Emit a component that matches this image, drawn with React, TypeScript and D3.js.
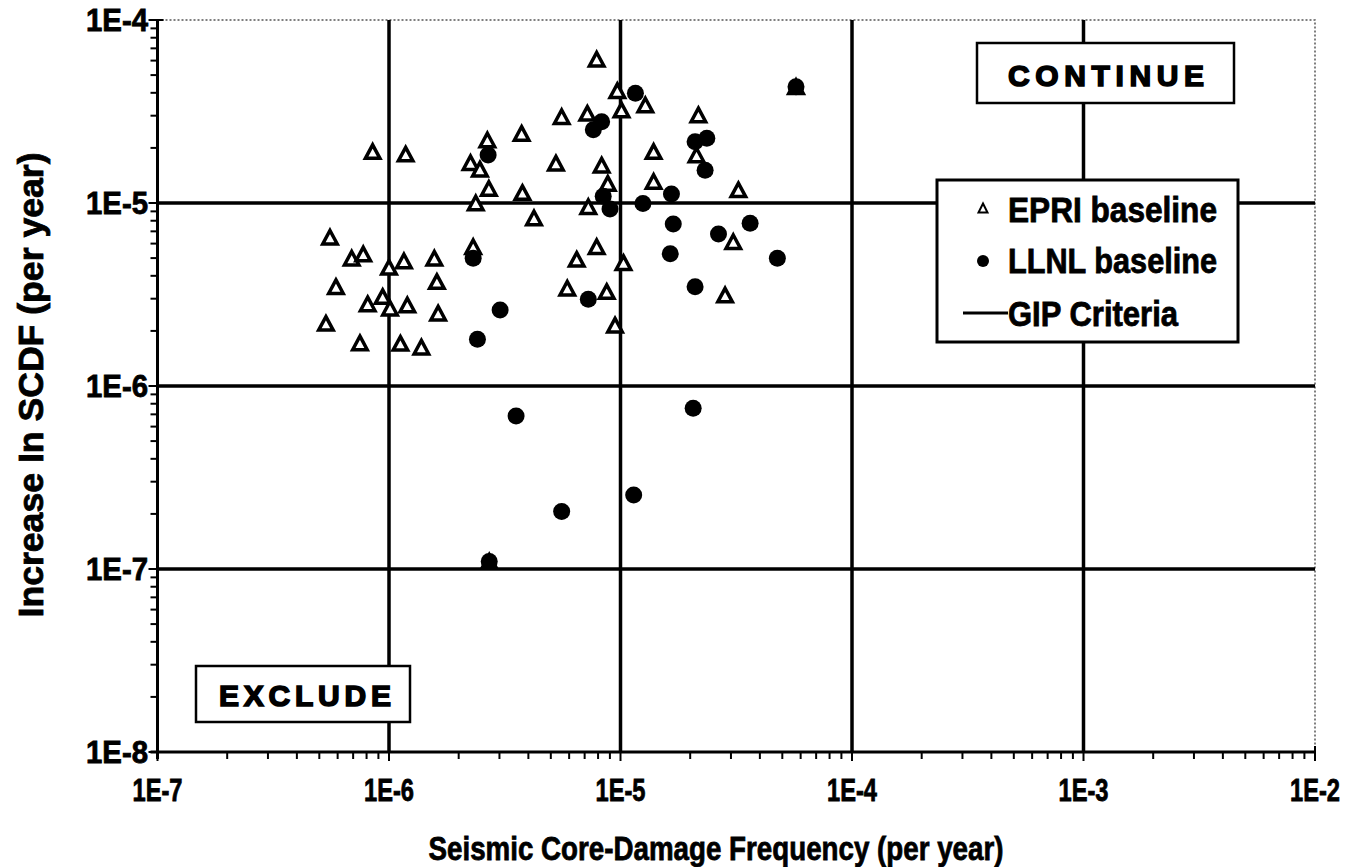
import React from "react";
import * as d3 from "d3";

const xTickValues = [1e-7, 1e-6, 1e-5, 1e-4, 1e-3, 1e-2];
const xTickLabels = ["1E-7", "1E-6", "1E-5", "1E-4", "1E-3", "1E-2"];
const yTickValues = [1e-4, 1e-5, 1e-6, 1e-7, 1e-8];
const yTickLabels = ["1E-4", "1E-5", "1E-6", "1E-7", "1E-8"];

// EPRI baseline: [seismic CDF, increase in SCDF]
const epriX = [8.5e-7, 1.18e-6, 2.25e-6, 2.47e-6, 2.7e-6, 2.37e-6, 5.56e-7, 6.9e-7, 7.74e-7, 1.0e-6, 1.16e-6, 1.57e-6, 2.31e-6, 5.9e-7, 1.61e-6, 9.39e-7, 8.09e-7, 1.01e-6, 1.2e-6, 1.63e-6, 5.34e-7, 7.49e-7, 1.12e-6, 1.38e-6, 7.89e-6, 9.69e-6, 1.01e-5, 1.28e-5, 5.57e-6, 7.19e-6, 3.74e-6, 2.66e-6, 1.39e-5, 5.26e-6, 8.29e-6, 1.39e-5, 8.81e-6, 3.77e-6, 7.26e-6, 4.23e-6, 7.89e-6, 6.47e-6, 1.03e-5, 5.89e-6, 8.72e-6, 9.47e-6, 2.17e-5, 2.13e-5, 3.23e-5, 3.07e-5, 2.83e-5, 5.73e-5, 2.71e-6];
const epriY = [1.91e-5, 1.85e-5, 1.66e-5, 1.53e-5, 1.2e-5, 1.0e-5, 6.5e-6, 4.99e-6, 5.26e-6, 4.45e-6, 4.82e-6, 4.99e-6, 5.77e-6, 3.49e-6, 3.72e-6, 3.08e-6, 2.81e-6, 2.66e-6, 2.77e-6, 2.5e-6, 2.2e-6, 1.72e-6, 1.71e-6, 1.63e-6, 6.1e-5, 4.11e-5, 3.22e-5, 3.43e-5, 2.96e-5, 3.09e-5, 2.4e-5, 2.21e-5, 1.91e-5, 1.65e-5, 1.61e-5, 1.31e-5, 1.28e-5, 1.14e-5, 9.54e-6, 8.28e-6, 5.77e-6, 4.92e-6, 4.72e-6, 3.42e-6, 3.28e-6, 2.15e-6, 3.03e-5, 1.83e-5, 1.18e-5, 6.14e-6, 3.14e-6, 4.32e-5, 1.1e-7];

// LLNL baseline
const llnlX = [2.31e-6, 3.02e-6, 2.41e-6, 2.68e-6, 1.16e-5, 8.29e-6, 7.63e-6, 8.42e-6, 9.01e-6, 1.66e-5, 1.25e-5, 1.69e-5, 1.64e-5, 7.26e-6, 2.1e-5, 2.36e-5, 2.32e-5, 2.65e-5, 3.63e-5, 4.76e-5, 2.1e-5, 3.54e-6, 5.57e-6, 2.71e-6, 1.14e-5, 2.06e-5, 5.73e-5];
const llnlY = [4.99e-6, 2.6e-6, 1.8e-6, 1.83e-5, 3.98e-5, 2.78e-5, 2.51e-5, 1.09e-5, 9.27e-6, 1.12e-5, 9.94e-6, 7.68e-6, 5.28e-6, 2.98e-6, 2.16e-5, 2.26e-5, 1.51e-5, 6.77e-6, 7.75e-6, 4.99e-6, 3.49e-6, 6.86e-7, 2.06e-7, 1.1e-7, 2.54e-7, 7.55e-7, 4.32e-5];

// GIP criteria lines
const gipX = [1e-6, 1e-5, 1e-4, 1e-3];
const gipY = [1e-5, 1e-6, 1e-7];

const legendLabels = ["EPRI baseline", "LLNL baseline", "GIP Criteria"];

const W = 1362;
const H = 867;
const FONT = "'Liberation Sans', Arial, sans-serif";

export default function App() {
  const x = d3.scaleLog().domain([1e-7, 1e-2]).range([157.5, 1315]);
  const y = d3.scaleLog().domain([1e-8, 1e-4]).range([752, 20]);
  const [x0, x1] = x.range();
  const [y1, y0] = y.range();

  const minorX: number[] = [];
  for (let e = -7; e < -2; e++) for (let m = 2; m <= 9; m++) minorX.push(m * Math.pow(10, e));
  const minorY: number[] = [];
  for (let e = -8; e < -4; e++) for (let m = 2; m <= 9; m++) minorY.push(m * Math.pow(10, e));

  const tri = (cx: number, cy: number, w: number, h: number) =>
    `M${cx},${cy - h / 2}L${cx + w / 2},${cy + h / 2}L${cx - w / 2},${cy + h / 2}Z`;

  const heavy = { stroke: "#000", strokeWidth: 0.8 };

  return (
    <svg width={W} height={H} style={{ position: "absolute", left: 0, top: 0, background: "#fff" }}>
      <rect x={0} y={0} width={W} height={H} fill="#fff" />
      {/* plot frame (top/right) */}
      <rect x={x0} y={y0} width={x1 - x0} height={y1 - y0} fill="none" stroke="#555" strokeWidth={1.5} strokeDasharray="2,2" />
      {/* GIP criteria grid lines */}
      {gipX.map((v, i) => (
        <line key={"gx" + i} x1={x(v)} x2={x(v)} y1={y0} y2={y1} stroke="#000" strokeWidth={3.5} />
      ))}
      {gipY.map((v, i) => (
        <line key={"gy" + i} x1={x0} x2={x1} y1={y(v)} y2={y(v)} stroke="#000" strokeWidth={3.5} />
      ))}
      {/* axes */}
      <line x1={x0} x2={x0} y1={y0} y2={y1 + 7} stroke="#000" strokeWidth={3} />
      <line x1={x0 - 7} x2={x1} y1={y1} y2={y1} stroke="#000" strokeWidth={3} />
      {minorX.map((v, i) => (
        <line key={"mx" + i} x1={x(v)} x2={x(v)} y1={y1} y2={y1 + 7} stroke="#000" strokeWidth={2} />
      ))}
      {xTickValues.map((v, i) => (
        <line key={"tx" + i} x1={x(v)} x2={x(v)} y1={y1 - 6} y2={y1 + 9} stroke="#000" strokeWidth={2} />
      ))}
      {minorY.map((v, i) => (
        <line key={"my" + i} x1={x0 - 7} x2={x0} y1={y(v)} y2={y(v)} stroke="#000" strokeWidth={2} />
      ))}
      {yTickValues.map((v, i) => (
        <line key={"ty" + i} x1={x0 - 9} x2={x0 + 6} y1={y(v)} y2={y(v)} stroke="#000" strokeWidth={2} />
      ))}
      {/* tick labels */}
      {xTickValues.map((v, i) => (
        <text key={"xl" + i} x={x(v)} y={801} textAnchor="middle" fontFamily={FONT} fontWeight="bold" fontSize={31}
          textLength={50} lengthAdjust="spacingAndGlyphs" {...heavy}>{xTickLabels[i]}</text>
      ))}
      {yTickValues.map((v, i) => (
        <text key={"yl" + i} x={148} y={y(v) + 11} textAnchor="end" fontFamily={FONT} fontWeight="bold" fontSize={31}
          textLength={62} lengthAdjust="spacingAndGlyphs" {...heavy}>{yTickLabels[i]}</text>
      ))}
      {/* axis titles */}
      <text x={716} y={860} textAnchor="middle" fontFamily={FONT} fontWeight="bold" fontSize={34}
        textLength={575} lengthAdjust="spacingAndGlyphs" {...heavy}>Seismic Core-Damage Frequency (per year)</text>
      <text transform="translate(43,385) rotate(-90)" textAnchor="middle" fontFamily={FONT} fontWeight="bold" fontSize={35}
        textLength={465} lengthAdjust="spacingAndGlyphs" {...heavy}>Increase In SCDF (per year)</text>
      {/* EPRI triangles */}
      {epriX.map((v, i) => (
        <path key={"e" + i} d={tri(x(v), y(epriY[i]), 14.5, 13.5)} fill="#fff" stroke="#000" strokeWidth={3.5} strokeLinejoin="miter" />
      ))}
      {/* LLNL circles */}
      {llnlX.map((v, i) => (
        <circle key={"l" + i} cx={x(v)} cy={y(llnlY[i])} r={8.5} fill="#000" />
      ))}
      {/* CONTINUE box */}
      <rect x={977} y={43} width={257} height={60} fill="#fff" stroke="#000" strokeWidth={2.5} />
      <text x={1106} y={86} textAnchor="middle" fontFamily={FONT} fontWeight="bold" fontSize={30} stroke="#000" strokeWidth={1.6}
        textLength={196} lengthAdjust="spacing">CONTINUE</text>
      {/* EXCLUDE box */}
      <rect x={196} y={666} width={214} height={56} fill="#fff" stroke="#000" strokeWidth={2.5} />
      <text x={305} y={706} textAnchor="middle" fontFamily={FONT} fontWeight="bold" fontSize={30} stroke="#000" strokeWidth={1.6}
        textLength={172} lengthAdjust="spacing">EXCLUDE</text>
      {/* legend */}
      <rect x={937} y={180} width={301} height={162} fill="#fff" stroke="#000" strokeWidth={3} />
      <path d={tri(983, 208, 9, 9)} fill="#fff" stroke="#000" strokeWidth={2} />
      <circle cx={983} cy={261} r={6} fill="#000" />
      <line x1={963} x2={1008} y1={313} y2={313} stroke="#000" strokeWidth={3} />
      {legendLabels.map((t, i) => (
        <text key={"lg" + i} x={1008} y={[222, 273, 326][i]} fontFamily={FONT} fontWeight="bold" fontSize={35}
          textLength={[209, 209, 170][i]} lengthAdjust="spacingAndGlyphs" {...heavy}>{t}</text>
      ))}
    </svg>
  );
}
